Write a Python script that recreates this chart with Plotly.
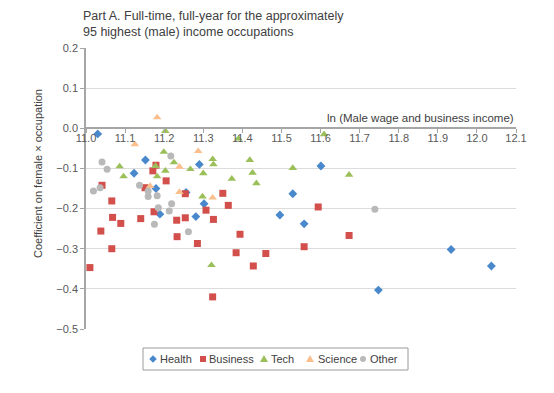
import plotly.graph_objects as go

# ---- data ----
health_x = [11.030, 11.152, 11.123, 11.179, 11.189, 11.256, 11.281, 11.290, 11.302,
            11.496, 11.529, 11.558, 11.601, 11.934, 12.037, 11.748]
health_y = [-0.014, -0.079, -0.112, -0.150, -0.214, -0.160, -0.220, -0.090, -0.188,
            -0.216, -0.163, -0.238, -0.094, -0.302, -0.343, -0.403]

business_x = [11.041, 11.066, 11.068, 11.089, 11.038, 11.140, 11.171, 11.179, 11.151,
              11.205, 11.174, 11.232, 11.254, 11.233, 11.254, 11.307, 11.326, 11.350,
              11.364, 11.394, 11.285, 11.324, 11.384, 11.428, 11.460, 11.010, 11.066,
              11.594, 11.673, 11.558]
business_y = [-0.142, -0.181, -0.222, -0.237, -0.256, -0.225, -0.106, -0.092, -0.148,
              -0.131, -0.208, -0.229, -0.223, -0.270, -0.163, -0.204, -0.227, -0.162,
              -0.192, -0.264, -0.287, -0.420, -0.310, -0.343, -0.312, -0.347, -0.300,
              -0.196, -0.267, -0.295]

tech_x = [11.203, 11.199, 11.086, 11.096, 11.178, 11.225, 11.203, 11.182, 11.267,
          11.300, 11.324, 11.326, 11.373, 11.298, 11.390, 11.419, 11.426, 11.436,
          11.529, 11.609, 11.673, 11.321]
tech_y = [-0.007, -0.059, -0.095, -0.120, -0.094, -0.085, -0.106, -0.120, -0.102,
          -0.112, -0.077, -0.090, -0.126, -0.170, -0.026, -0.079, -0.111, -0.137,
          -0.099, -0.015, -0.116, -0.341]

science_x = [11.182, 11.125, 11.287, 11.239, 11.164, 11.239, 11.324]
science_y = [0.027, -0.040, -0.057, -0.096, -0.144, -0.159, -0.173]

other_x = [11.041, 11.054, 11.019, 11.036, 11.217, 11.137, 11.159, 11.159, 11.182,
           11.185, 11.219, 11.213, 11.175, 11.262, 11.739]
other_y = [-0.084, -0.102, -0.156, -0.148, -0.069, -0.142, -0.156, -0.170, -0.168,
           -0.198, -0.188, -0.206, -0.239, -0.258, -0.202]

series_names = ["Health", "Business", "Tech", "Science", "Other"]
series_x = [health_x, business_x, tech_x, science_x, other_x]
series_y = [health_y, business_y, tech_y, science_y, other_y]

# ---- styles ----
symbols = ["diamond", "square", "triangle-up", "triangle-up", "circle"]
colors = ["#4a88cc", "#d24f4b", "#9bc05a", "#fbbf8e", "#b9b9b9"]
sizes = [6.8, 7, 7.5, 7.5, 7]
FONT = "Liberation Sans, Arial, sans-serif"

# page body has an 8px default margin, so the figure is 8px smaller
W, H = 546, 385
ML, MR, MT, MB = 78, 38, 40, 64
PW, PH = W - ML - MR, H - MT - MB


def px_x(fx):
    return (fx - ML) / PW


def px_y(fy):
    return (MT + PH - fy) / PH


fig = go.Figure()
for name, xs, ys, sym, col, sz in zip(series_names, series_x, series_y, symbols, colors, sizes):
    fig.add_trace(go.Scatter(
        x=xs, y=ys, mode="markers", name=name, showlegend=False,
        marker=dict(symbol=sym, color=col, size=sz, line=dict(width=0)),
    ))

y_min, y_max = -0.5, 0.2

annotations = [
    dict(text="Part A. Full-time, full-year for the approximately<br>95 highest (male) income occupations",
         x=px_x(73), y=px_y(16), xref="paper", yref="paper", xanchor="left", yanchor="middle",
         align="left", showarrow=False, font=dict(family=FONT, size=12.5, color="#404040")),
    dict(text="ln (Male wage and business income)", x=12.1, y=0, xref="x", yref="y",
         xanchor="right", yanchor="bottom", showarrow=False, yshift=2,
         font=dict(family=FONT, size=11.5, color="#404040")),
    dict(text="Coefficient on female × occupation", x=px_x(30), y=px_y(166),
         xref="paper", yref="paper", textangle=-90, showarrow=False,
         xanchor="center", yanchor="middle", font=dict(family=FONT, size=11, color="#404040")),
]

# ---- legend (box, symbols, labels) ----
leg_sym_x = [145, 195, 256, 302, 355]
leg_txt_x = [150, 199, 261, 308, 360]
leg_cy = 351
shapes = [dict(type="rect", xref="paper", yref="paper",
               x0=px_x(135), x1=px_x(400), y0=px_y(362), y1=px_y(340),
               line=dict(color="#9a9a9a", width=1), fillcolor="white")]
sym_paths = {
    "diamond": "M0,3.8 L3.8,0 L0,-3.8 L-3.8,0 Z",
    "square": "M-3,-3 L3,-3 L3,3 L-3,3 Z",
    "triangle-up": "M-4,-3 L4,-3 L0,4 Z",
}
for name, sym, col, sx, tx in zip(series_names, symbols, colors, leg_sym_x, leg_txt_x):
    if sym == "circle":
        shapes.append(dict(type="circle", xref="paper", yref="paper",
                           xsizemode="pixel", ysizemode="pixel",
                           xanchor=px_x(sx), yanchor=px_y(leg_cy),
                           x0=-3, x1=3, y0=-3, y1=3, fillcolor=col, line=dict(width=0)))
    else:
        shapes.append(dict(type="path", xref="paper", yref="paper",
                           xsizemode="pixel", ysizemode="pixel",
                           xanchor=px_x(sx), yanchor=px_y(leg_cy),
                           path=sym_paths[sym], fillcolor=col, line=dict(width=0)))
    annotations.append(dict(text=name, x=px_x(tx), y=px_y(leg_cy), xref="paper", yref="paper",
                            xanchor="left", yanchor="middle", showarrow=False,
                            font=dict(family=FONT, size=11, color="#404040")))

fig.update_layout(
    width=W, height=H,
    margin=dict(l=ML, r=MR, t=MT, b=MB),
    paper_bgcolor="white", plot_bgcolor="white",
    font=dict(family=FONT, size=11, color="#595959"),
    showlegend=False,
    xaxis=dict(
        range=[11.0, 12.1], dtick=0.1, tick0=11.0, tickformat=".1f",
        anchor="free", position=(0 - y_min) / (y_max - y_min),
        showline=True, linecolor="#a6a6a6", linewidth=1.5,
        ticks="outside", ticklen=4, tickcolor="#a6a6a6", ticklabelstandoff=-4,
        showgrid=False, zeroline=False,
        tickfont=dict(size=11, color="#595959"),
    ),
    yaxis=dict(
        range=[y_min, y_max], dtick=0.1, tick0=0, tickformat=".1f",
        showline=True, linecolor="#a6a6a6", linewidth=1.5,
        ticks="outside", ticklen=4, tickcolor="#a6a6a6",
        showgrid=True, gridcolor="#dcdcdc", gridwidth=1, zeroline=False,
        tickfont=dict(size=11, color="#595959"),
    ),
    annotations=annotations,
    shapes=shapes,
)

fig.write_html("out.html")
